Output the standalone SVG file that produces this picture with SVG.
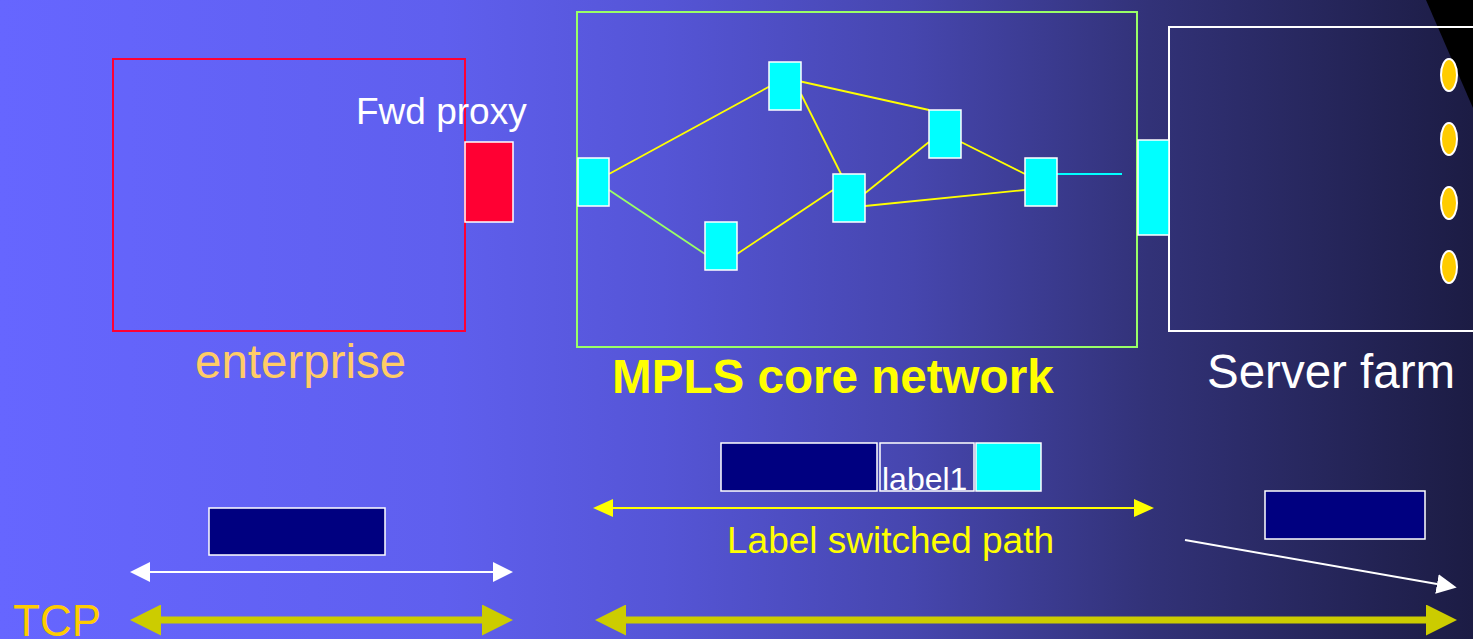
<svg xmlns="http://www.w3.org/2000/svg" width="1473" height="639" viewBox="0 0 1473 639">
  <defs>
    <linearGradient id="bg" x1="0" y1="0" x2="1473" y2="0" gradientUnits="userSpaceOnUse">
      <stop offset="0" stop-color="#6666FF"/>
      <stop offset="0.3" stop-color="#5F5FEE"/>
      <stop offset="0.45" stop-color="#5555D6"/>
      <stop offset="0.62" stop-color="#4646AE"/>
      <stop offset="0.78" stop-color="#323278"/>
      <stop offset="1" stop-color="#1C1C44"/>
    </linearGradient>
    <!-- arrowheads sit beyond the line end: the line stops at the head's base -->
    <marker id="wHead" viewBox="0 0 20 20" refX="0" refY="10" markerWidth="20" markerHeight="20" markerUnits="userSpaceOnUse" orient="auto-start-reverse">
      <path d="M0,0 L20,10 L0,20 Z" fill="#FFFFFF"/>
    </marker>
    <marker id="yHead" viewBox="0 0 20 18" refX="0" refY="9" markerWidth="20" markerHeight="18" markerUnits="userSpaceOnUse" orient="auto-start-reverse">
      <path d="M0,0 L20,9 L0,18 Z" fill="#FFFF00"/>
    </marker>
    <marker id="oHead" viewBox="0 0 31 31" refX="0" refY="15.5" markerWidth="31" markerHeight="31" markerUnits="userSpaceOnUse" orient="auto-start-reverse">
      <path d="M0,0 L31,15.5 L0,31 Z" fill="#CCCC00"/>
    </marker>
  </defs>
  <style>
    .lbl { font-family: "Liberation Sans", Arial, sans-serif; }
    .node { fill: #00FFFF; stroke: #FFFFFF; stroke-width: 1.5; }
    .link { stroke: #FFFF00; stroke-width: 1.8; fill: none; }
    .navy { fill: #000080; stroke: #FFFFFF; stroke-width: 1.5; }
    .srv { fill: #FFCC00; stroke: #FFFFFF; stroke-width: 2; }
  </style>

  <!-- background -->
  <rect x="0" y="0" width="1473" height="639" fill="url(#bg)"/>
  <path d="M1426,0 L1473,0 L1473,108 Z" fill="#000000"/>

  <!-- enterprise -->
  <g id="enterprise">
    <rect x="113" y="59" width="352" height="272" fill="none" stroke="#FF0033" stroke-width="2"/>
    <text class="lbl" x="195" y="378" font-size="47.5" fill="#FFCC66">enterprise</text>
  </g>
  <g id="fwd-proxy">
    <rect x="465" y="142" width="48" height="80" fill="#FF0033" stroke="#FFFFFF" stroke-width="1.5"/>
    <text class="lbl" x="356" y="124" font-size="37" fill="#FFFFFF">Fwd proxy</text>
  </g>

  <!-- MPLS core -->
  <g id="mpls-core">
    <rect x="577" y="12" width="560" height="335" fill="none" stroke="#99FF66" stroke-width="2"/>
    <text class="lbl" x="612" y="393" font-size="47.6" font-weight="bold" fill="#FFFF00">MPLS core network</text>
  </g>

  <!-- links inside the core, and the path spans below -->
  <g id="connectors">
    <line class="link" x1="609" y1="174" x2="785" y2="78"/>
    <line x1="609" y1="190" x2="705" y2="254" stroke="#99FF66" stroke-width="1.8"/>
    <line class="link" x1="737" y1="254" x2="833" y2="190"/>
    <line class="link" x1="785" y1="78" x2="929" y2="110"/>
    <line class="link" x1="801" y1="94" x2="849" y2="190"/>
    <line class="link" x1="849" y1="206" x2="929" y2="142"/>
    <line class="link" x1="865" y1="206" x2="1025" y2="190"/>
    <line class="link" x1="961" y1="142" x2="1025" y2="174"/>
    <line x1="1057" y1="174" x2="1122" y2="174" stroke="#00FFFF" stroke-width="1.8"/>

    <line x1="613" y1="508" x2="1134" y2="508" stroke="#FFFF00" stroke-width="2" marker-start="url(#yHead)" marker-end="url(#yHead)"/>
    <line x1="150" y1="572" x2="493" y2="572" stroke="#FFFFFF" stroke-width="2" marker-start="url(#wHead)" marker-end="url(#wHead)"/>
    <line x1="1185" y1="540" x2="1437" y2="584" stroke="#FFFFFF" stroke-width="2" marker-end="url(#wHead)"/>
    <line x1="161" y1="620" x2="482" y2="620" stroke="#CCCC00" stroke-width="7" marker-start="url(#oHead)" marker-end="url(#oHead)"/>
    <line x1="626" y1="620" x2="1426" y2="620" stroke="#CCCC00" stroke-width="7" marker-start="url(#oHead)" marker-end="url(#oHead)"/>
  </g>

  <g id="lsr-a"><rect class="node" x="578" y="158" width="31" height="48"/></g>
  <g id="lsr-b"><rect class="node" x="769" y="62" width="32" height="48"/></g>
  <g id="lsr-c"><rect class="node" x="705" y="222" width="32" height="48"/></g>
  <g id="lsr-d"><rect class="node" x="833" y="174" width="32" height="48"/></g>
  <g id="lsr-e"><rect class="node" x="929" y="110" width="32" height="48"/></g>
  <g id="lsr-f"><rect class="node" x="1025" y="158" width="32" height="48"/></g>

  <!-- server farm -->
  <g id="server-farm">
    <rect x="1169" y="27" width="320" height="304" fill="none" stroke="#FFFFFF" stroke-width="2"/>
    <ellipse class="srv" cx="1449" cy="75" rx="8" ry="16"/>
    <ellipse class="srv" cx="1449" cy="139" rx="8" ry="16"/>
    <ellipse class="srv" cx="1449" cy="203" rx="8" ry="16"/>
    <ellipse class="srv" cx="1449" cy="267" rx="8" ry="16"/>
    <text class="lbl" x="1207" y="388" font-size="47.5" fill="#FFFFFF">Server farm</text>
  </g>
  <g id="edge-router">
    <rect x="1138" y="140" width="31" height="95" fill="#00FFFF" stroke="#FFFFFF" stroke-width="1.5"/>
  </g>

  <!-- labelled packet -->
  <g id="labelled-packet">
    <rect class="navy" x="721" y="443" width="156" height="48"/>
    <rect x="880" y="443" width="94" height="48" fill="none" stroke="#FFFFFF" stroke-width="1.5"/>
    <text class="lbl" x="882" y="490" font-size="32" fill="#FFFFFF">label1</text>
    <rect x="976" y="443" width="65" height="48" fill="#00FFFF" stroke="#FFFFFF" stroke-width="1.5"/>
  </g>
  <g id="lsp-label">
    <text class="lbl" x="727" y="553" font-size="37" fill="#FFFF00">Label switched path</text>
  </g>

  <!-- plain packets -->
  <g id="packet-left"><rect class="navy" x="209" y="508" width="176" height="47"/></g>
  <g id="packet-right"><rect class="navy" x="1265" y="491" width="160" height="48"/></g>

  <g id="tcp-label">
    <text class="lbl" x="13" y="636" font-size="44" fill="#FFCC00">TCP</text>
  </g>
</svg>
